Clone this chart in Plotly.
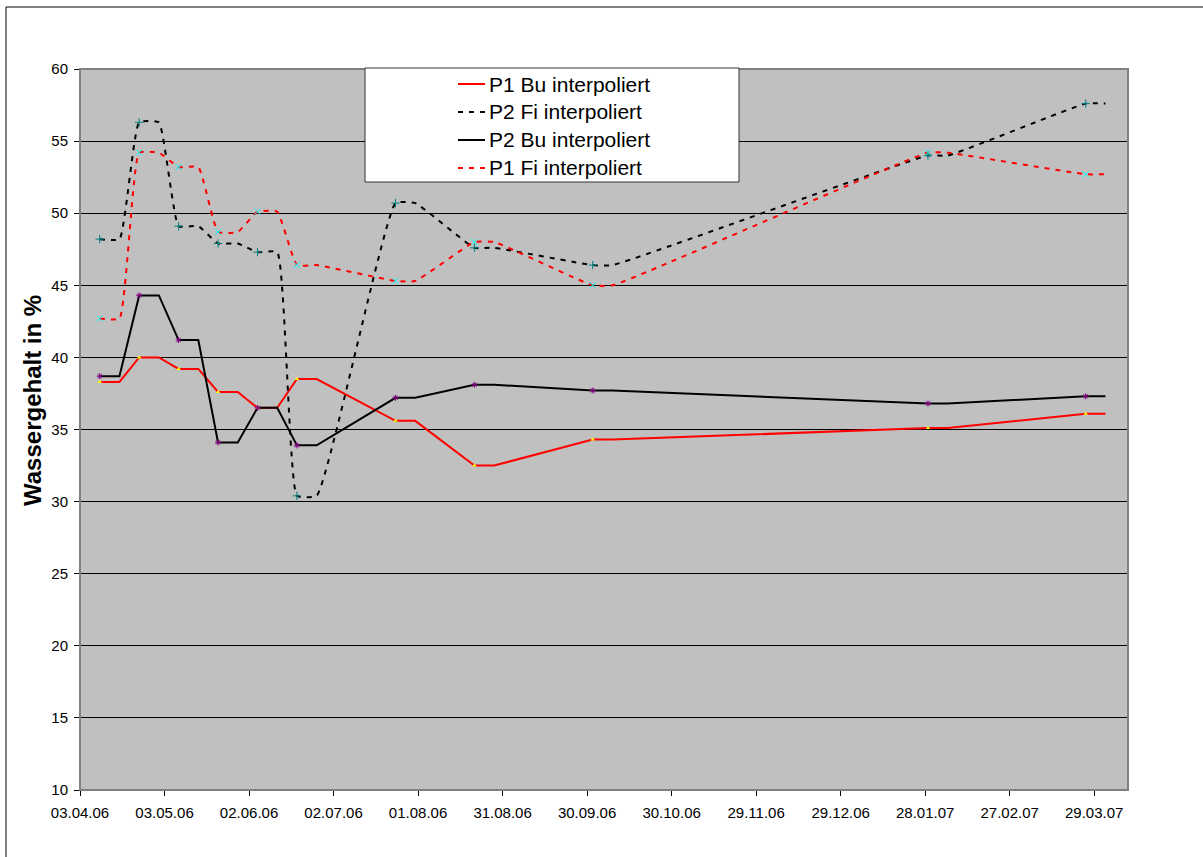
import plotly.graph_objects as go
from datetime import date, timedelta

# Messtermine (jeweils Montag); jeder Wert wird eine Woche lang gehalten
mess_termine = ["2006-04-10", "2006-04-24", "2006-05-08", "2006-05-22", "2006-06-05",
                "2006-06-19", "2006-07-24", "2006-08-21", "2006-10-02", "2007-01-29",
                "2007-03-26"]
halte_tage = 7

p1_bu = [38.3, 40.0, 39.2, 37.6, 36.5, 38.5, 35.6, 32.5, 34.3, 35.1, 36.1]
p2_fi = [48.2, 56.3, 49.1, 47.9, 47.3, 30.4, 50.7, 47.6, 46.4, 54.0, 57.6]
p2_bu = [38.7, 44.3, 41.2, 34.1, 36.5, 33.9, 37.2, 38.1, 37.7, 36.8, 37.3]
p1_fi = [42.7, 54.2, 53.2, 48.7, 50.1, 46.4, 45.3, 48.0, 45.0, 54.2, 52.7]

y_ticks = [10, 15, 20, 25, 30, 35, 40, 45, 50, 55, 60]
x_start, x_end = "2006-04-03", "2007-04-10"

FONT = "Liberation Sans, Arial, sans-serif"
DASH = "5px,6px"


def stufen(daten, werte):
    """Jeden Messwert am Messtag und eine Woche später ansetzen."""
    xs, ys = [], []
    for d, v in zip(daten, werte):
        d0 = date.fromisoformat(d)
        xs += [d0.isoformat(), (d0 + timedelta(days=halte_tage)).isoformat()]
        ys += [v, v]
    return xs, ys


serien = [
    ("P1 Bu interpoliert", p1_bu, dict(color="#FF0000", width=2), "linear",
     dict(symbol="triangle-up", color="#FFFF00", size=4)),
    ("P2 Fi interpoliert", p2_fi, dict(color="#000000", width=2, dash=DASH), "spline",
     dict(symbol="cross-thin-open", color="#008080", size=6, line=dict(width=1, color="#008080"))),
    ("P2 Bu interpoliert", p2_bu, dict(color="#000000", width=2), "linear",
     dict(symbol="asterisk-open", color="#800080", size=5, line=dict(width=1, color="#800080"))),
    ("P1 Fi interpoliert", p1_fi, dict(color="#FF0000", width=2, dash=DASH), "spline",
     dict(symbol="x-thin-open", color="#00FFFF", size=6, line=dict(width=1, color="#00FFFF"))),
]

fig = go.Figure()
for name, werte, linie, form, _ in serien:
    xs, ys = stufen(mess_termine, werte)
    fig.add_trace(go.Scatter(x=xs, y=ys, mode="lines", name=name, showlegend=False,
                             line=dict(shape=form, smoothing=0.4, **linie)))
for name, werte, _, _, marker in serien:
    fig.add_trace(go.Scatter(x=mess_termine, y=werte, mode="markers", showlegend=False,
                             marker=marker, hoverinfo="skip"))

W, H = 1203, 857
L, R, T, B = 80, 75, 69, 67
pw, ph = W - L - R, H - T - B


def px_x(x):
    return (x - L) / pw


def px_y(y):
    return 1 - (y - T) / ph


shapes = [
    # Rahmen des Diagrammbereichs
    dict(type="rect", xref="paper", yref="paper", x0=px_x(6), x1=px_x(1230),
         y0=px_y(900), y1=px_y(7), line=dict(color="#000000", width=1), layer="below"),
    # Rahmen der Zeichenfläche
    dict(type="rect", xref="paper", yref="paper", x0=0, x1=1, y0=0, y1=1,
         line=dict(color="#808080", width=2), layer="above"),
    # Legendenkasten
    dict(type="rect", xref="paper", yref="paper", x0=px_x(365), x1=px_x(739),
         y0=px_y(182), y1=px_y(68), fillcolor="#FFFFFF",
         line=dict(color="#333333", width=1), layer="above"),
]

annotations = [dict(text="<b>Wassergehalt in %</b>", xref="paper", yref="paper",
                    x=px_x(32), y=px_y(401), xanchor="center", yanchor="middle",
                    textangle=-90, showarrow=False,
                    font=dict(family=FONT, size=24, color="#000000"))]

# Legendeneinträge: Linienmuster und Beschriftung
for i, (name, _, linie, _, _) in enumerate(serien):
    yc = px_y(84 + 28 * i)
    shapes.append(dict(type="line", xref="paper", yref="paper",
                       x0=px_x(458), x1=px_x(485), y0=yc, y1=yc, layer="above",
                       line=dict(color=linie["color"], width=2, dash=linie.get("dash", "solid"))))
    annotations.append(dict(text=name, xref="paper", yref="paper", x=px_x(487), y=yc,
                            xanchor="left", yanchor="middle", showarrow=False,
                            font=dict(family=FONT, size=21, color="#000000")))

fig.update_layout(
    width=W, height=H,
    margin=dict(l=L, r=R, t=T, b=B),
    paper_bgcolor="#FFFFFF",
    plot_bgcolor="#C0C0C0",
    font=dict(family=FONT, color="#000000", size=15),
    shapes=shapes,
    annotations=annotations,
    showlegend=False,
)

fig.update_xaxes(
    type="date", range=[x_start, x_end],
    tick0=x_start, dtick=30 * 86400000, tickformat="%d.%m.%y",
    ticks="outside", ticklen=5, tickcolor="#000000",
    showgrid=False, zeroline=False,
    showline=True, linecolor="#000000", linewidth=1,
    tickfont=dict(family=FONT, size=15, color="#000000"),
    ticklabelstandoff=4,
)
fig.update_yaxes(
    range=[10, 60], tickvals=y_ticks, ticktext=[str(v) for v in y_ticks],
    ticks="outside", ticklen=5, tickcolor="#000000",
    showgrid=True, gridcolor="#000000", gridwidth=1, zeroline=False,
    showline=True, linecolor="#000000", linewidth=1,
    tickfont=dict(family=FONT, size=15, color="#000000"),
    ticklabelstandoff=3,
)

fig.write_html("out.html")
